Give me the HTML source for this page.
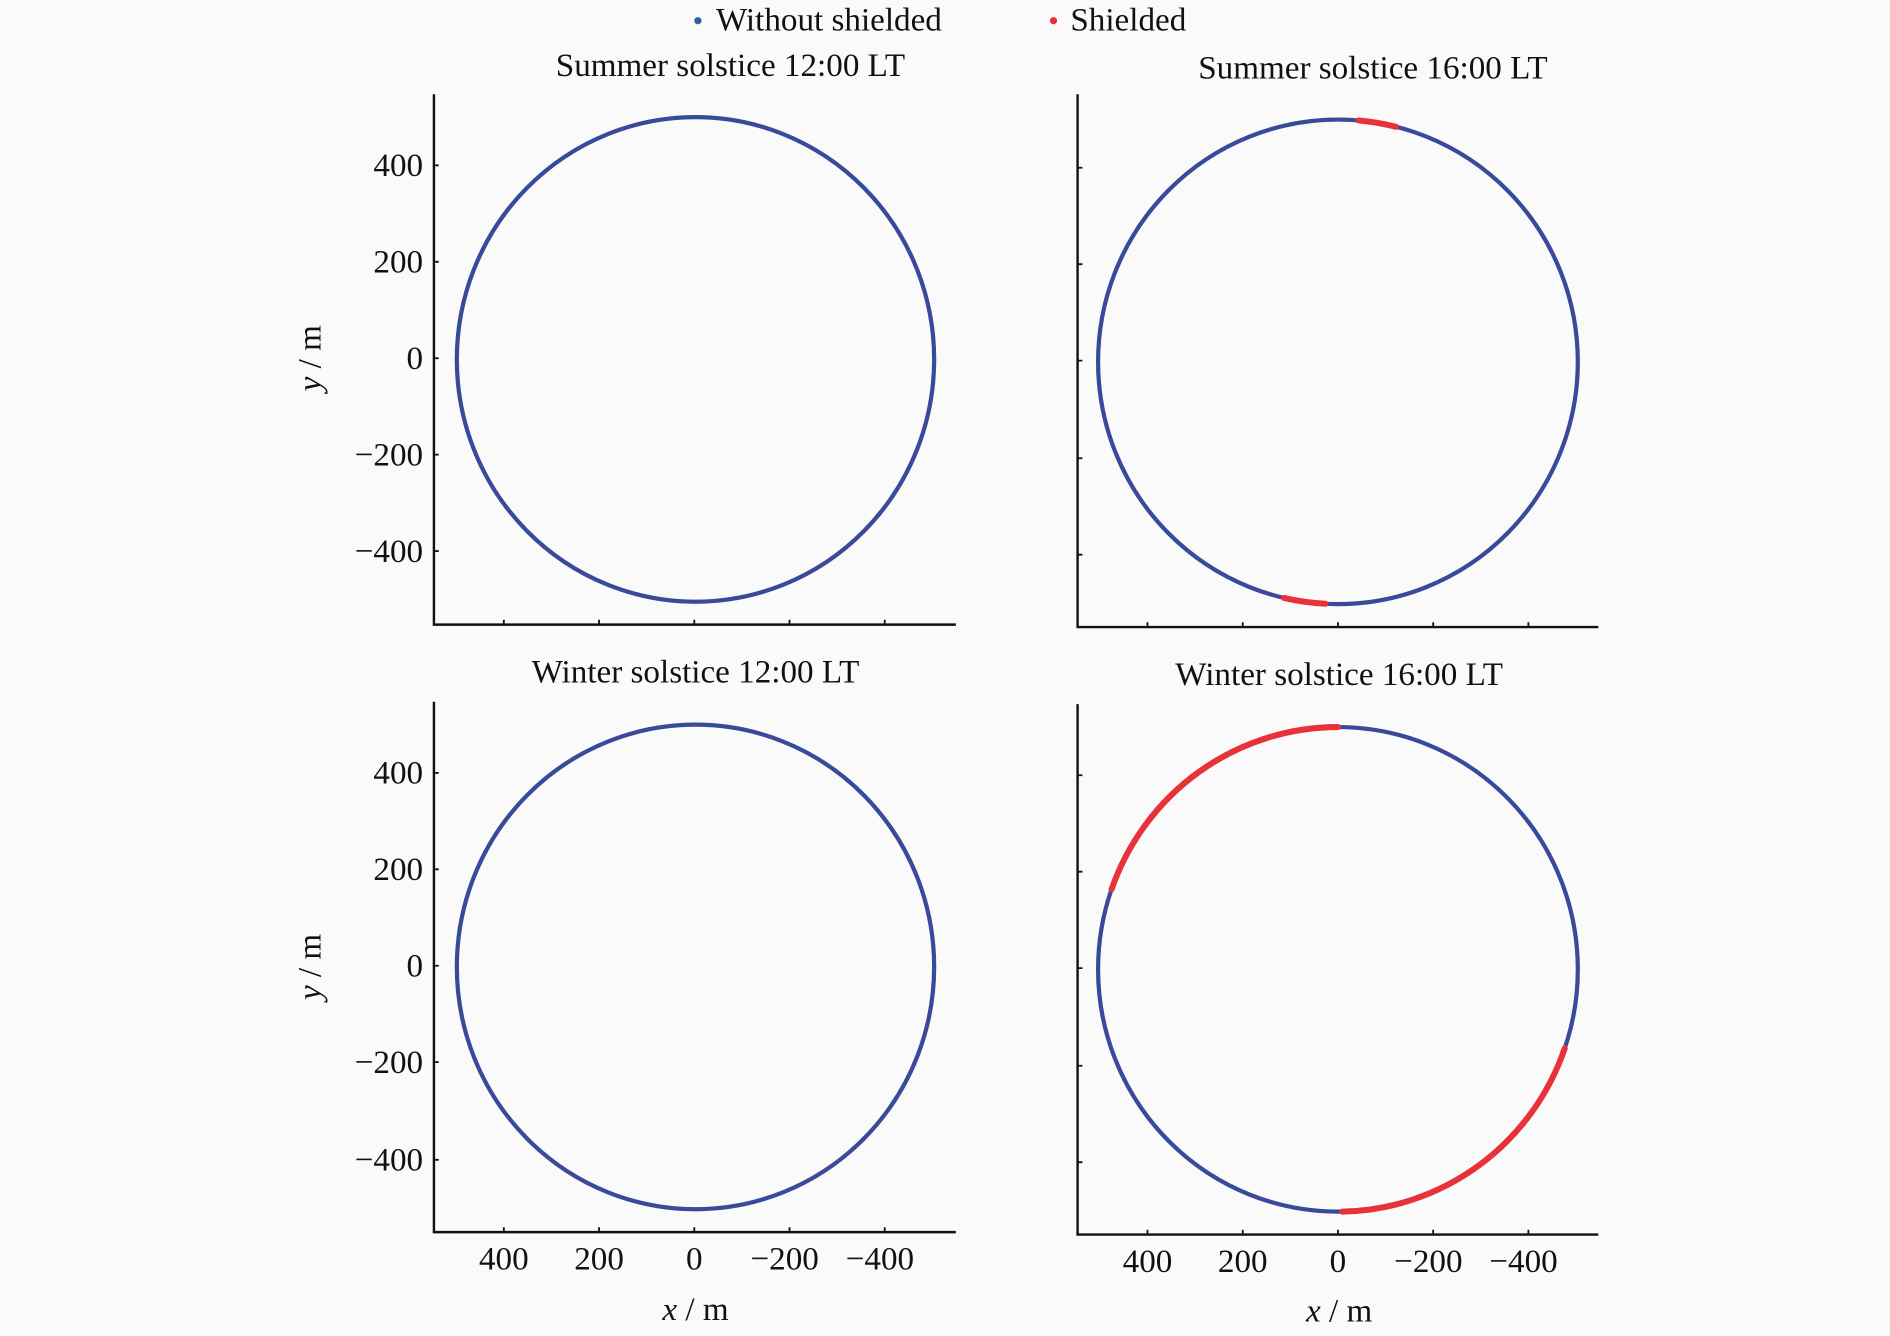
<!DOCTYPE html>
<html><head><style>html,body{margin:0;padding:0;background:#fafafa}svg{display:block}text{font-family:"Liberation Serif",serif;fill:#111}</style></head><body>
<svg width="1890" height="1336" viewBox="0 0 1568 1108" xmlns="http://www.w3.org/2000/svg">
<rect width="1568" height="1108" fill="#fafafa"/>
<g font-size="27.5">
<circle cx="579" cy="17" r="3" fill="#2f5fa0"/><text x="594" y="25">Without shielded</text>
<circle cx="874" cy="17" r="3" fill="#e8323a"/><text x="888" y="25">Shielded</text>
<text x="606" y="63" text-anchor="middle">Summer solstice 12:00 LT</text>
<text x="1139" y="65" text-anchor="middle">Summer solstice 16:00 LT</text>
<text x="577" y="566" text-anchor="middle">Winter solstice 12:00 LT</text>
<text x="1111" y="568" text-anchor="middle">Winter solstice 16:00 LT</text>
<text transform="translate(266,297) rotate(-90)" text-anchor="middle"><tspan font-style="italic">y</tspan> / m</text>
<text transform="translate(266,802) rotate(-90)" text-anchor="middle"><tspan font-style="italic">y</tspan> / m</text>
<text x="577" y="1095" text-anchor="middle"><tspan font-style="italic">x</tspan> / m</text>
<text x="1111" y="1096" text-anchor="middle"><tspan font-style="italic">x</tspan> / m</text>
</g>
<g stroke="#111" stroke-width="2" fill="none">
<path d="M360 78V518H793"/><path d="M894 78V520H1326"/>
<path d="M360 582V1022H793"/><path d="M894 584V1024H1326"/>
</g>
<g stroke="#111" stroke-width="1.5">
<path d="M360 137h4M360 217h4M360 297h4M360 377h4M360 457h4M418 518v-4M497 518v-4M576 518v-4M655 518v-4M734 518v-4"/>
<path d="M894 139h4M894 219h4M894 299h4M894 380h4M894 460h4M952 520v-4M1031 520v-4M1110 520v-4M1189 520v-4M1268 520v-4"/>
<path d="M360 641h4M360 721h4M360 801h4M360 881h4M360 962h4M418 1022v-4M497 1022v-4M576 1022v-4M655 1022v-4M734 1022v-4"/>
<path d="M894 643h4M894 723h4M894 803h4M894 884h4M894 964h4M952 1024v-4M1031 1024v-4M1110 1024v-4M1189 1024v-4M1268 1024v-4"/>
</g>
<g font-size="27.5" text-anchor="end">
<text x="351" y="146">400</text><text x="351" y="226">200</text><text x="351" y="306">0</text><text x="351" y="386">−200</text><text x="351" y="466">−400</text>
<text x="351" y="650">400</text><text x="351" y="730">200</text><text x="351" y="810">0</text><text x="351" y="890">−200</text><text x="351" y="971">−400</text>
</g>
<g font-size="27.5" text-anchor="middle">
<text x="418" y="1053">400</text><text x="497" y="1053">200</text><text x="576" y="1053">0</text><text x="651" y="1053">−200</text><text x="730" y="1053">−400</text>
<text x="952" y="1055">400</text><text x="1031" y="1055">200</text><text x="1110" y="1055">0</text><text x="1185" y="1055">−200</text><text x="1264" y="1055">−400</text>
</g>
<g fill="none" stroke="#3a4a9a" stroke-width="3.5">
<ellipse cx="577" cy="298" rx="198" ry="201"/>
<ellipse cx="1110" cy="300" rx="199" ry="201"/>
<ellipse cx="577" cy="802" rx="198" ry="201"/>
<ellipse cx="1110" cy="804" rx="199" ry="201"/>
</g>
<g fill="none" stroke="#e8323a" stroke-width="5" stroke-linecap="round">
<path d="M1127.3 99.8A199 201 0 0 1 1158.1 105"/>
<path d="M1099.6 500.7A199 201 0 0 1 1065.2 495.9"/>
<path d="M922.2 737.6A199 201 0 0 1 1110 603"/>
<path d="M1298.2 869.4A199 201 0 0 1 1113.5 1005"/>
</g>
</svg>
</body></html>
